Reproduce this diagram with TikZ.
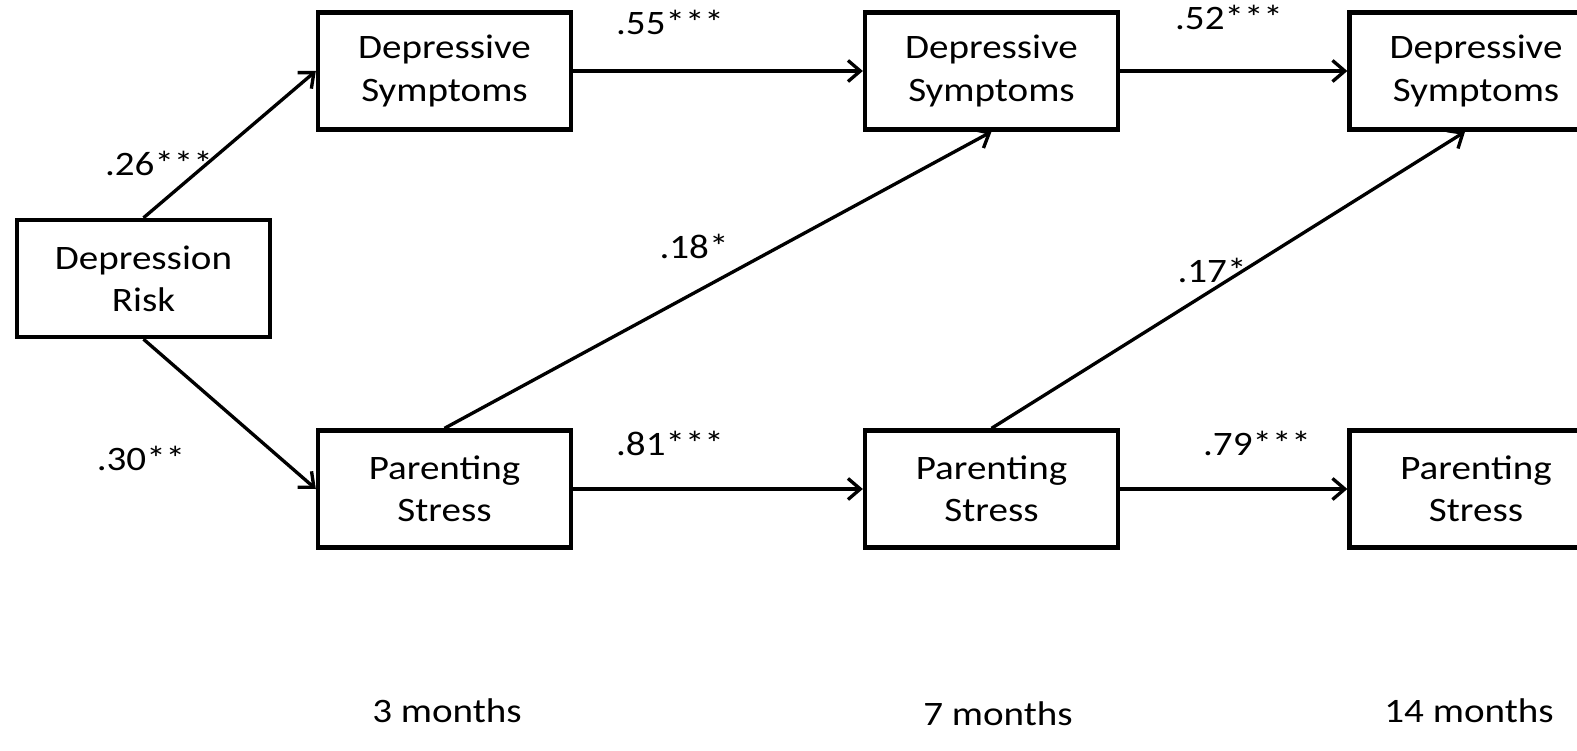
\documentclass[tikz,border=0pt]{standalone}
\usepackage{fontspec}
\setmainfont{Carlito}[FakeStretch=1.14]
\usepackage{tikz}
\usetikzlibrary{arrows.meta}
\tikzset{
  pathbox/.style={draw=black,line width=2.5pt,minimum width=5.06cm,minimum height=2.34cm,inner sep=0pt,align=center},
  patharrow/.style={-{Straight Barb[length=7pt,width=12pt,line width=1.9pt]},line width=1.9pt},
  pathcoef/.style={inner sep=0pt},
  every picture/.style={font=\fontsize{19.5}{24}\selectfont}
}

\begin{document}
\begin{tikzpicture}[x=0.02cm,y=-0.02cm]
  \useasboundingbox (0,0) rectangle (1577,750);
  \clip (0,0) rectangle (1577,750);
  \node[pathbox] (risk) at (143.5,278.5) {Depression\\Risk};
  \node[pathbox] (dep1) at (444.5,71) {Depressive\\Symptoms};
  \node[pathbox] (dep2) at (991.5,71) {Depressive\\Symptoms};
  \node[pathbox] (dep3) at (1476,71) {Depressive\\Symptoms};
  \node[pathbox] (str1) at (444.5,489) {Parenting\\Stress};
  \node[pathbox] (str2) at (991.5,489) {Parenting\\Stress};
  \node[pathbox] (str3) at (1476,489) {Parenting\\Stress};
  \draw[patharrow] (risk.north) -- (dep1.west);
  \draw[patharrow] (risk.south) -- (str1.west);
  \draw[patharrow] (dep1.east) -- (dep2.west);
  \draw[patharrow] (dep2.east) -- (dep3.west);
  \draw[patharrow] (str1.east) -- (str2.west);
  \draw[patharrow] (str2.east) -- (str3.west);
  \draw[patharrow] (str1.north) -- (dep2.south);
  \draw[patharrow] (str2.north) -- ([xshift=-0.22cm]dep3.south);
  \node[pathcoef] (c26) at (159,163) {.26***};
  \node[pathcoef] (c30) at (141,458) {.30**};
  \node[pathcoef] (c55) at (670,22) {.55***};
  \node[pathcoef] (c52) at (1229,17) {.52***};
  \node[pathcoef] (c18) at (694,246) {.18*};
  \node[pathcoef] (c17) at (1212,270) {.17*};
  \node[pathcoef] (c81) at (670,443) {.81***};
  \node[pathcoef] (c79) at (1257,443) {.79***};
  \node (m3) at (447,711) {3 months};
  \node (m7) at (998,714) {7 months};
  \node (m14) at (1469,711) {14 months};
\end{tikzpicture}
\end{document}
